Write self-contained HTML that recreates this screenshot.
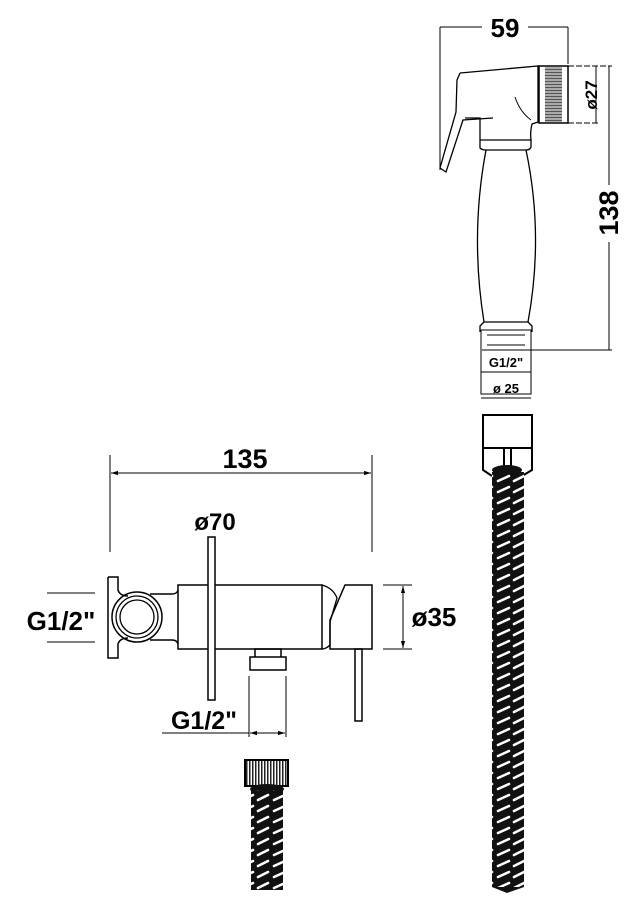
<!DOCTYPE html>
<html><head><meta charset="utf-8"><style>
html,body{margin:0;padding:0;background:#fff;}
svg{display:block;}
text{font-family:"Liberation Sans",Arial,sans-serif;font-weight:bold;fill:#000;}
</style></head><body>
<svg width="642" height="910" viewBox="0 0 642 910" xmlns="http://www.w3.org/2000/svg">
<defs>
<pattern id="hose" width="32" height="11" patternUnits="userSpaceOnUse">
<rect width="32" height="11" fill="#111"/>
<line x1="2" y1="8" x2="12" y2="3" stroke="#fff" stroke-width="2.6" stroke-linecap="round"/>
<line x1="18" y1="8" x2="29" y2="3" stroke="#fff" stroke-width="2.6" stroke-linecap="round"/>
</pattern>
<pattern id="knurl" width="3" height="10" patternUnits="userSpaceOnUse">
<rect width="3" height="10" fill="#fff"/><rect width="1.5" height="10" fill="#222"/>
</pattern>
<pattern id="knurl2" width="10" height="3" patternUnits="userSpaceOnUse">
<rect width="10" height="3" fill="#aaa"/><rect width="10" height="1" fill="#555"/>
</pattern>
<marker id="ar" viewBox="0 0 10 10" refX="10" refY="5" markerWidth="7" markerHeight="7" orient="auto-start-reverse"><path d="M0,2 L10,5 L0,8 z" fill="#000"/></marker>
</defs>
<g fill="none" stroke="#000" stroke-width="1.3">
<line x1="440" y1="27" x2="440" y2="170" stroke-width="1"/>
<line x1="568" y1="27" x2="568" y2="64" stroke-width="1"/>
<line x1="440" y1="27" x2="482" y2="27" stroke-width="1"/>
<line x1="528" y1="27" x2="568" y2="27" stroke-width="1"/>
<line x1="568" y1="66" x2="612" y2="66" stroke-width="1" stroke-dasharray="6,2"/>
<line x1="568" y1="123" x2="600" y2="123" stroke-width="1" stroke-dasharray="6,2"/>
<line x1="596" y1="66" x2="596" y2="123" stroke-width="1"/>
<line x1="609" y1="66" x2="609" y2="185" stroke-width="1"/>
<line x1="609" y1="242" x2="609" y2="350" stroke-width="1"/>
<line x1="482" y1="350" x2="612" y2="350" stroke-width="1"/>
<path d="M460,73 L538,66 L538,122 L532,124 Q530,132 531,140 L480,140 L480,118 L465,118"/>
<path d="M515,97 Q520,112 531,120" stroke-width="1"/>
<path d="M460,73 L457,80 L456,112 L440,168 L446,172 L463,120 L493,118"/>
<rect x="539" y="66" width="29" height="57" stroke-width="1.5"/>
<rect x="545" y="67" width="17" height="55" fill="url(#knurl2)" stroke="none"/>
<path d="M480,140 L480,148 Q482,150 486,150 L526,150 Q530,150 531,147 L531,140" fill="none"/>
<path d="M486,150 Q470,235 484,322 M526,150 Q544,235 528,322"/>
<path d="M484,322 L480,326 L480,332 M528,322 L532,326 L532,332 M484,322 L528,322"/>
<rect x="481" y="330" width="50" height="64" stroke-width="1"/>
<line x1="487" y1="335" x2="525" y2="335" stroke-width="1"/>
<line x1="487" y1="345" x2="525" y2="345" stroke-width="1"/>
<line x1="481" y1="372" x2="531" y2="372" stroke-width="1"/>
<line x1="481" y1="398" x2="531" y2="398" stroke-width="1"/>
<rect x="483" y="415" width="49" height="33" stroke-width="2"/>
<path d="M483,448 L483,470 L492,476 M532,448 L532,470 L522,476" stroke-width="2"/>
<line x1="504" y1="448" x2="504" y2="466" stroke-width="2"/>
<line x1="511" y1="448" x2="511" y2="466" stroke-width="2"/>
<ellipse cx="507" cy="470" rx="15" ry="5" fill="#111" stroke="none"/>
<rect x="492" y="472" width="32" height="415" fill="url(#hose)" stroke="none"/>
<path d="M492,887 L507,893 L524,887 Z" fill="#111" stroke="none"/>
<line x1="110" y1="455" x2="110" y2="552" stroke-width="1"/>
<line x1="372" y1="455" x2="372" y2="552" stroke-width="1"/>
<line x1="111" y1="473" x2="371" y2="473" stroke-width="1" marker-start="url(#ar)" marker-end="url(#ar)"/>
<line x1="47" y1="593" x2="95" y2="593" stroke-width="1"/>
<line x1="47" y1="642" x2="95" y2="642" stroke-width="1"/>
<line x1="383" y1="585" x2="412" y2="585" stroke-width="1"/>
<line x1="383" y1="649" x2="412" y2="649" stroke-width="1"/>
<line x1="403" y1="586" x2="403" y2="648" stroke-width="1" marker-start="url(#ar)" marker-end="url(#ar)"/>
<line x1="249" y1="676" x2="249" y2="737" stroke-width="1"/>
<line x1="286" y1="676" x2="286" y2="737" stroke-width="1"/>
<line x1="162" y1="733" x2="249" y2="733" stroke-width="1"/>
<line x1="250" y1="733" x2="285" y2="733" stroke-width="1" marker-start="url(#ar)" marker-end="url(#ar)"/>
<path d="M108,577 L118,577 L118,590 Q120,596 128,596 M108,577 L108,658 L118,658 L118,644 Q120,638 128,638" stroke-width="1.5"/>
<circle cx="137" cy="617" r="25" stroke-width="1.5"/>
<circle cx="137" cy="617" r="21" stroke-width="1.3"/>
<circle cx="137" cy="617" r="17" stroke-width="1.3"/>
<path d="M150,594 L172,594 Q177,594 178,590 M150,640 L172,640 Q177,640 178,644" stroke-width="1.5"/>
<rect x="178" y="585" width="144" height="64" stroke-width="1.5"/>
<path d="M322,585 Q333,588 337,598 L330,622 L330,645 Q326,649 322,649" stroke-width="1.3"/>
<path d="M345,585 L372,585 L372,649 L330,649 L330,620 Z" stroke-width="1.5"/>
<rect x="208" y="537" width="7" height="163" fill="#fff" stroke-width="1.5"/>
<rect x="255" y="649" width="26" height="9" stroke-width="1.5"/>
<rect x="250" y="657" width="36" height="13" fill="#fff" stroke-width="1.5"/>
<rect x="355" y="649" width="7" height="72" stroke-width="1.5"/>
<rect x="245" y="760" width="43" height="26" fill="url(#knurl)" stroke-width="2"/>
<ellipse cx="267" cy="789" rx="17" ry="5" fill="#111" stroke="none"/>
<rect x="251" y="790" width="32" height="100" fill="url(#hose)" stroke="none"/>
</g>
<text x="505" y="37" font-size="26" text-anchor="middle">59</text>
<text transform="translate(597,95) rotate(-90)" font-size="17" text-anchor="middle">ø27</text>
<text transform="translate(618,213) rotate(-90)" font-size="27" text-anchor="middle">138</text>
<text x="506" y="367" font-size="13" text-anchor="middle" font-weight="normal">G1/2"</text>
<text x="506" y="393" font-size="13" text-anchor="middle">ø 25</text>
<text x="245" y="468" font-size="27" text-anchor="middle">135</text>
<text x="215" y="530" font-size="24" text-anchor="middle">ø70</text>
<text x="61" y="630" font-size="26" text-anchor="middle">G1/2"</text>
<text x="434" y="626" font-size="26" text-anchor="middle">ø35</text>
<text x="204" y="729" font-size="25" text-anchor="middle">G1/2"</text>
</svg>
</body></html>
